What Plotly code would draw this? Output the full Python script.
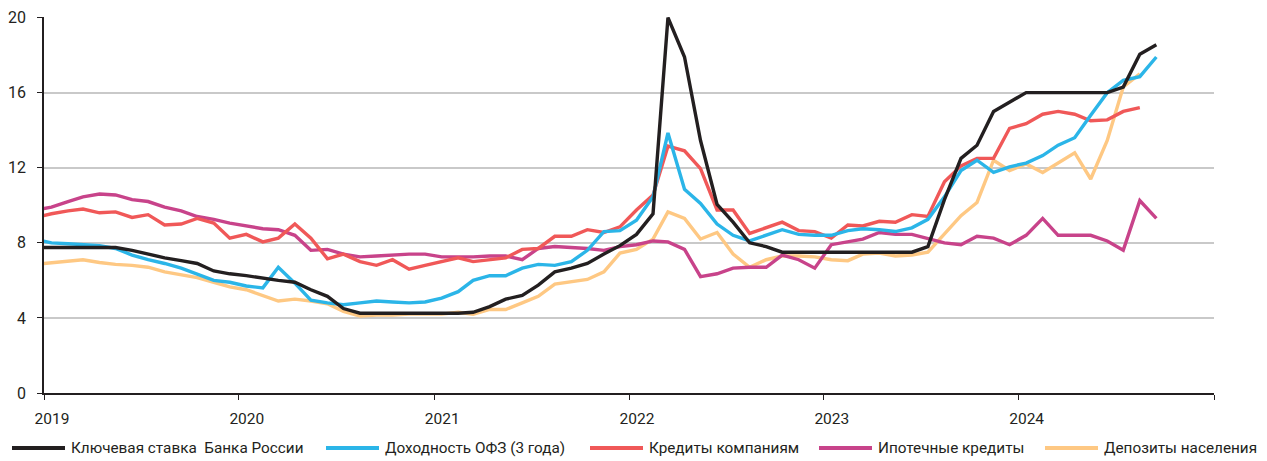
import pandas as pd
import plotly.graph_objects as go

# Monthly observations, Dec 2018 .. Sep 2024 (points at mid-month)
months = pd.date_range("2018-12-01", "2024-09-01", freq="MS") + pd.Timedelta(days=14)

key_rate = [7.75,
            7.75, 7.75, 7.75, 7.75, 7.75, 7.6, 7.4, 7.2, 7.05, 6.9, 6.5, 6.35,
            6.25, 6.1, 6.0, 5.9, 5.5, 5.15, 4.5, 4.25, 4.25, 4.25, 4.25, 4.25,
            4.25, 4.25, 4.3, 4.6, 5.0, 5.2, 5.75, 6.45, 6.65, 6.9, 7.4, 7.85,
            8.45, 9.55, 20.0, 17.9, 13.45, 10.05, 9.1, 8.0, 7.8, 7.5, 7.5, 7.5,
            7.5, 7.5, 7.5, 7.5, 7.5, 7.5, 7.8, 10.3, 12.5, 13.2, 15.0, 15.5,
            16.0, 16.0, 16.0, 16.0, 16.0, 16.0, 16.3, 18.05, 18.55]

ofz_3y = [8.2,
          8.0, 7.95, 7.9, 7.85, 7.7, 7.35, 7.1, 6.9, 6.65, 6.35, 6.0, 5.9,
          5.7, 5.6, 6.7, 5.85, 4.95, 4.8, 4.7, 4.8, 4.9, 4.85, 4.8, 4.85,
          5.05, 5.4, 6.0, 6.25, 6.25, 6.65, 6.85, 6.8, 7.0, 7.6, 8.6, 8.65,
          9.2, 10.45, 13.85, 10.85, 10.1, 9.0, 8.4, 8.1, 8.4, 8.7, 8.45, 8.4,
          8.4, 8.65, 8.75, 8.7, 8.6, 8.8, 9.25, 10.45, 11.85, 12.4, 11.75, 12.05,
          12.25, 12.65, 13.2, 13.6, 14.8, 16.0, 16.65, 16.85, 17.9]

corp_loans = [9.35,
              9.55, 9.7, 9.8, 9.6, 9.65, 9.35, 9.5, 8.95, 9.0, 9.3, 9.05, 8.25,
              8.45, 8.05, 8.25, 9.0, 8.25, 7.15, 7.4, 7.0, 6.8, 7.1, 6.6, 6.8,
              7.0, 7.2, 7.0, 7.1, 7.2, 7.65, 7.7, 8.35, 8.35, 8.7, 8.55, 8.85,
              9.75, 10.55, 13.15, 12.9, 11.95, 9.75, 9.75, 8.5, 8.8, 9.1, 8.65, 8.6,
              8.25, 8.95, 8.9, 9.15, 9.1, 9.5, 9.4, 11.25, 12.1, 12.5, 12.5, 14.1,
              14.35, 14.85, 15.0, 14.85, 14.5, 14.55, 15.0, 15.2]

mortgage = [9.75,
            9.9, 10.2, 10.45, 10.6, 10.55, 10.3, 10.2, 9.9, 9.7, 9.4, 9.25, 9.05,
            8.9, 8.75, 8.7, 8.4, 7.6, 7.65, 7.4, 7.25, 7.3, 7.35, 7.4, 7.4,
            7.25, 7.25, 7.25, 7.3, 7.3, 7.1, 7.7, 7.8, 7.75, 7.7, 7.6, 7.8,
            7.9, 8.1, 8.05, 7.65, 6.2, 6.35, 6.65, 6.7, 6.7, 7.35, 7.1, 6.65,
            7.9, 8.05, 8.2, 8.55, 8.45, 8.45, 8.25, 8.0, 7.9, 8.35, 8.25, 7.9,
            8.4, 9.3, 8.4, 8.4, 8.4, 8.1, 7.6, 10.25, 9.3]

deposits = [6.85,
            6.95, 7.05, 7.1, 6.95, 6.85, 6.8, 6.7, 6.45, 6.3, 6.15, 5.9, 5.65,
            5.5, 5.2, 4.9, 5.0, 4.9, 4.75, 4.35, 4.1, 4.15, 4.15, 4.2, 4.2,
            4.2, 4.3, 4.2, 4.45, 4.45, 4.8, 5.15, 5.8, 5.95, 6.05, 6.45, 7.45,
            7.65, 8.2, 9.65, 9.3, 8.2, 8.55, 7.4, 6.7, 7.1, 7.3, 7.3, 7.25,
            7.1, 7.05, 7.4, 7.45, 7.3, 7.35, 7.5, 8.5, 9.45, 10.15, 12.4, 11.85,
            12.2, 11.75, 12.25, 12.8, 11.4, 13.45, 16.3, 17.0]

series_names = ["Ключевая ставка  Банка России", "Доходность ОФЗ (3 года)",
                "Кредиты компаниям", "Ипотечные кредиты", "Депозиты населения"]
series_values = [key_rate, ofz_3y, corp_loans, mortgage, deposits]
colors = ["#231f20", "#2bb5e8", "#f05858", "#c8438a", "#fec883"]

year_ticks = ["2019-01-01", "2020-01-01", "2021-01-01", "2022-01-01",
              "2023-01-01", "2024-01-01", "2025-01-01"]
year_labels = ["2019", "2020", "2021", "2022", "2023", "2024", ""]
y_ticks = [0, 4, 8, 12, 16, 20]

FONT = "Roboto"
# the page body has an 8px default margin, so the figure is sized to fit the window
OFF = 8
W, H = 1267 - OFF, 461 - OFF
ML, MR, MT, MB = 44 - OFF, 53, 17 - OFF, 68

fig = go.Figure()
# draw order: black on top as in reference
order = [4, 3, 2, 1, 0]
for i in order:
    vals = series_values[i]
    fig.add_trace(go.Scatter(
        x=months[:len(vals)], y=vals, mode="lines", name=series_names[i],
        line=dict(color=colors[i], width=3.4), showlegend=False,
        hovertemplate="%{y:.2f}<extra>" + series_names[i] + "</extra>"))

# manual legend (line sample + text), positions given in window pixels
pw = W - ML - MR
ph = H - MT - MB
def px_x(p):
    return (p - OFF - ML) / pw
def px_y(p):
    return (H - MB - (p - OFF)) / ph

leg_line_x = [12, 326, 590, 819, 1045]
leg_y = 448
shapes = []
annotations = []
for i, lx in enumerate(leg_line_x):
    shapes.append(dict(type="line", xref="paper", yref="paper",
                       x0=px_x(lx), x1=px_x(lx + 53), y0=px_y(leg_y), y1=px_y(leg_y),
                       line=dict(color=colors[i], width=4)))
    annotations.append(dict(xref="paper", yref="paper", x=px_x(lx + 57), y=px_y(leg_y),
                            xanchor="left", yanchor="middle", showarrow=False,
                            text=series_names[i].replace("  ", "&nbsp; "),
                            font=dict(family=FONT, size=15.3, color="#231f20")))

fig.update_layout(
    width=W, height=H,
    margin=dict(l=ML, r=MR, t=MT, b=MB, autoexpand=False),
    paper_bgcolor="white", plot_bgcolor="white",
    font=dict(family=FONT, size=15, color="#231f20"),
    shapes=shapes, annotations=annotations,
    showlegend=False,
)
fig.update_xaxes(
    type="date", range=["2019-01-01", "2025-01-01"], automargin=False,
    tickmode="array", tickvals=year_ticks, ticktext=year_labels,
    ticks="outside", ticklen=5, tickwidth=1.2, tickcolor="#231f20",
    showline=True, linecolor="#231f20", linewidth=1.5,
    showgrid=False, zeroline=False,
    ticklabelshift=8, ticklabelstandoff=6,
    tickfont=dict(family=FONT, size=15.5, color="#231f20"),
)
fig.update_yaxes(
    range=[0, 20.03], tickmode="array", tickvals=y_ticks, automargin=False,
    ticks="outside", ticklen=5, tickwidth=1.2, tickcolor="#231f20",
    showline=True, linecolor="#231f20", linewidth=1.5,
    showgrid=True, gridcolor="#c9c9c9", gridwidth=1.5, zeroline=False,
    ticklabelstandoff=8,
    tickfont=dict(family=FONT, size=16, color="#231f20"),
)

fig.write_html("out.html")
